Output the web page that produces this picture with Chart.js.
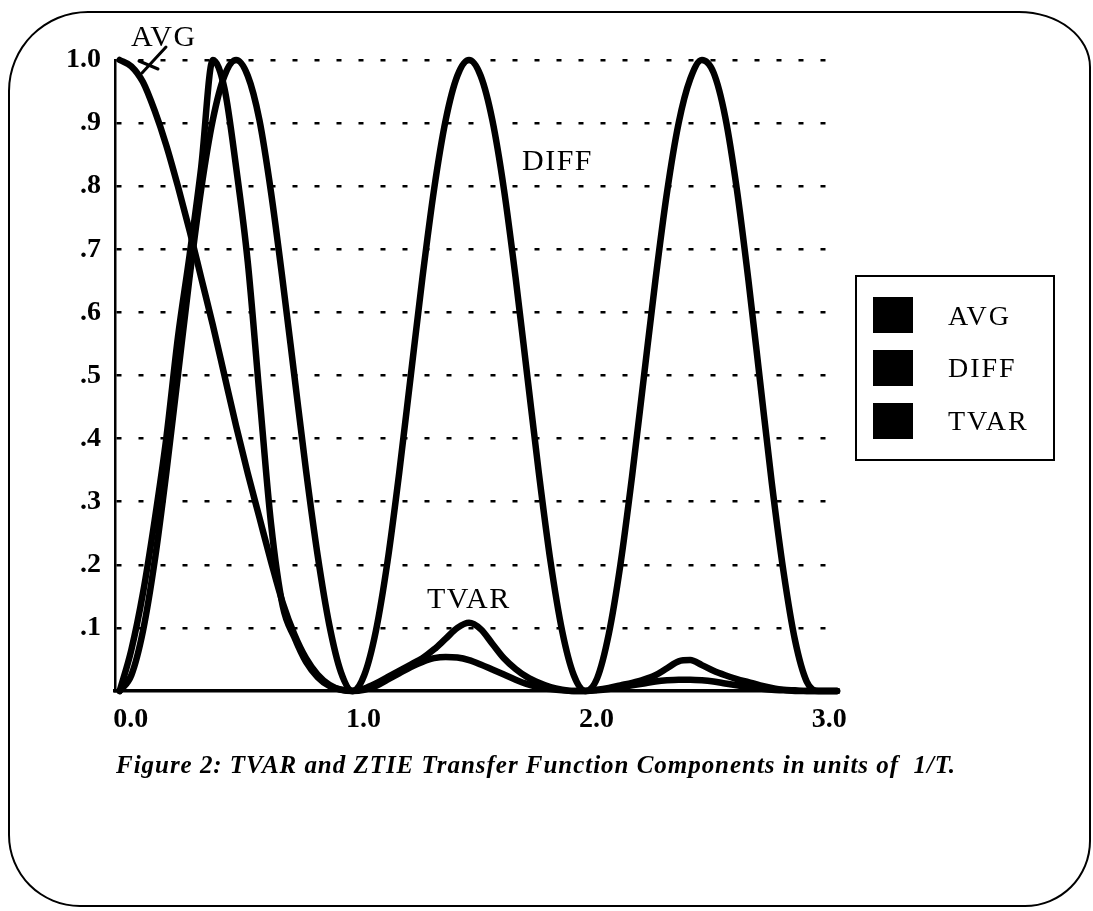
<!DOCTYPE html>
<html>
<head>
<meta charset="utf-8">
<script src="https://cdn.jsdelivr.net/npm/chart.js@4.4.1/dist/chart.umd.min.js"></script>
<style>
html,body{margin:0;padding:0;background:#fff;}
#wrap{position:relative;width:1093px;height:911px;overflow:hidden;background:#fff;}
#frame{position:absolute;left:8px;top:11px;width:1083px;height:896px;border:2.5px solid #000;border-radius:80px 72px 66px 72px / 80px 56px 66px 72px;box-sizing:border-box;}
#chart{position:absolute;left:0;top:0;}
.lbl{position:absolute;font-family:'Liberation Serif',serif;font-size:30px;line-height:30px;letter-spacing:1.5px;color:#000;white-space:nowrap;}
#legend{position:absolute;left:855px;top:275px;width:200px;height:186px;border:2.5px solid #000;box-sizing:border-box;}
.sw{position:absolute;left:873px;width:40px;height:36px;background:#000;}
.lt{position:absolute;left:948px;font-family:'Liberation Serif',serif;font-size:28px;line-height:28px;letter-spacing:2px;color:#000;white-space:nowrap;}
#caption{position:absolute;left:116px;top:752px;font-family:'Liberation Serif',serif;font-style:italic;font-weight:bold;font-size:25px;line-height:25px;color:#000;white-space:nowrap;}
svg{position:absolute;left:0;top:0;}
</style>
</head>
<body>
<div id="wrap">
  <div id="frame"></div>
  <canvas id="chart" width="1093" height="911"></canvas>
  <svg width="1093" height="911"><path d="M142 73 L166 47 M139 61 L158 69" stroke="#000" stroke-width="3" fill="none" stroke-linecap="round"/></svg>
  <div class="lbl" style="left:131px;top:21px;">AVG</div>
  <div class="lbl" style="left:522px;top:145px;">DIFF</div>
  <div class="lbl" style="left:427px;top:583px;">TVAR</div>
  <div id="legend"></div>
  <div class="sw" style="top:297px;"></div>
  <div class="sw" style="top:350px;"></div>
  <div class="sw" style="top:403px;"></div>
  <div class="lt" style="top:302px;">AVG</div>
  <div class="lt" style="top:354px;">DIFF</div>
  <div class="lt" style="top:407px;">TVAR</div>
  <div id="caption">Figure 2: TVAR and ZTIE Transfer Function Components in units of&nbsp; 1/T.</div>
</div>
<script>
const xValues = [0,0.05,0.10,0.15,0.20,0.25,0.30,0.35,0.40,0.45,0.50,0.55,0.60,0.65,0.70,0.75,0.80,0.85,0.90,0.95,
  1.00,1.05,1.10,1.15,1.20,1.25,1.30,1.35,1.40,1.45,1.50,1.55,1.60,1.65,1.70,1.75,1.80,1.85,1.90,1.95,
  2.00,2.05,2.10,2.15,2.20,2.25,2.30,2.35,2.40,2.45,2.50,2.55,2.60,2.65,2.70,2.75,2.80,2.85,2.90,2.95,
  3.00,3.05,3.08];

const avgValues = [1.000,0.990,0.965,0.920,0.865,0.800,0.730,0.655,0.580,0.500,0.420,0.345,0.275,0.205,0.140,0.090,0.052,0.026,0.010,0.002,
  0.000,0.002,0.008,0.018,0.028,0.038,0.046,0.052,0.054,0.053,0.049,0.042,0.034,0.026,0.018,0.011,0.006,0.003,0.001,0.000,
  0.000,0.001,0.003,0.006,0.009,0.012,0.015,0.017,0.018,0.018,0.017,0.015,0.012,0.009,0.006,0.004,0.002,0.001,0.000,0.000,
  0.000,0.000,0.000];

const diffValues = [0.000,0.025,0.095,0.205,0.345,0.500,0.655,0.795,0.905,0.975,1.000,0.975,0.905,0.790,0.650,0.500,0.350,0.215,0.105,0.030,
  0.000,0.025,0.095,0.205,0.345,0.500,0.655,0.795,0.905,0.975,1.000,0.975,0.905,0.795,0.655,0.500,0.345,0.205,0.095,0.025,
  0.000,0.020,0.090,0.200,0.340,0.495,0.650,0.790,0.900,0.970,1.000,0.980,0.910,0.795,0.650,0.490,0.330,0.190,0.080,0.015,
  0.000,0.000,0.000];

const tvarValues = [0.000,0.065,0.155,0.270,0.400,0.560,0.690,0.830,1.000,0.955,0.830,0.680,0.470,0.265,0.135,0.085,0.046,0.022,0.008,0.002,
  0.000,0.004,0.012,0.022,0.032,0.042,0.052,0.066,0.083,0.100,0.108,0.098,0.075,0.052,0.035,0.022,0.013,0.006,0.002,0.000,
  0.000,0.002,0.005,0.009,0.013,0.018,0.025,0.036,0.047,0.049,0.041,0.032,0.025,0.019,0.014,0.009,0.005,0.002,0.001,0.000,
  0.000,0.000,0.000];

const seriesNames = ['AVG','DIFF','TVAR'];
const xTickValues = [0,1,2,3];
const xTickLabels = ['0.0','1.0','2.0','3.0'];
const yTickLabels = ['','.1','.2','.3','.4','.5','.6','.7','.8','.9','1.0'];

function pts(ys){ return xValues.map((x,i)=>({x:x,y:ys[i]})); }

const tickFont = {family:'Liberation Serif', size:28, weight:'bold'};

new Chart(document.getElementById('chart'), {
  type:'line',
  data:{
    datasets:[
      {label:seriesNames[0], data:pts(avgValues)},
      {label:seriesNames[1], data:pts(diffValues)},
      {label:seriesNames[2], data:pts(tvarValues)}
    ].map(d=>Object.assign(d,{borderColor:'#000',backgroundColor:'#000',borderWidth:6.5,pointRadius:0,fill:false,clip:false,
      cubicInterpolationMode:'monotone',borderCapStyle:'round',borderJoinStyle:'round'}))
  },
  options:{
    responsive:false,
    animation:false,
    layout:{padding:{left:0,top:60,right:256,bottom:0}},
    plugins:{legend:{display:false},tooltip:{enabled:false}},
    scales:{
      x:{
        type:'linear', min:-0.02, max:3.08,
        afterBuildTicks:(s)=>{ s.ticks = xTickValues.map(v=>({value:v})); },
        afterFit:(s)=>{ s.height = 220; },
        grid:{display:false, drawTicks:false},
        border:{display:true, color:'#000', width:3.5},
        ticks:{
          callback:(v)=>xTickLabels[xTickValues.indexOf(v)],
          font:tickFont, color:'#000', padding:12, labelOffset:11, maxRotation:0, autoSkip:false
        }
      },
      y:{
        min:0, max:1,
        afterFit:(s)=>{ s.width = 115; },
        grid:{drawTicks:false, lineWidth:2.5,
          color:(ctx)=> (ctx.tick && Math.abs(ctx.tick.value) < 1e-9) ? 'rgba(0,0,0,0)' : '#000'},
        border:{display:true, color:'#000', width:2.5, dash:[5,17]},
        ticks:{
          stepSize:0.1,
          callback:(v)=>yTickLabels[Math.round(v*10)],
          font:tickFont, color:'#000', padding:14
        }
      }
    }
  }
});

// fit caption width to the reference span
const cap = document.getElementById('caption');
const target = 840;
const w = cap.getBoundingClientRect().width;
const n = cap.textContent.length;
cap.style.letterSpacing = ((target - w) / n).toFixed(3) + 'px';
</script>
</body>
</html>
